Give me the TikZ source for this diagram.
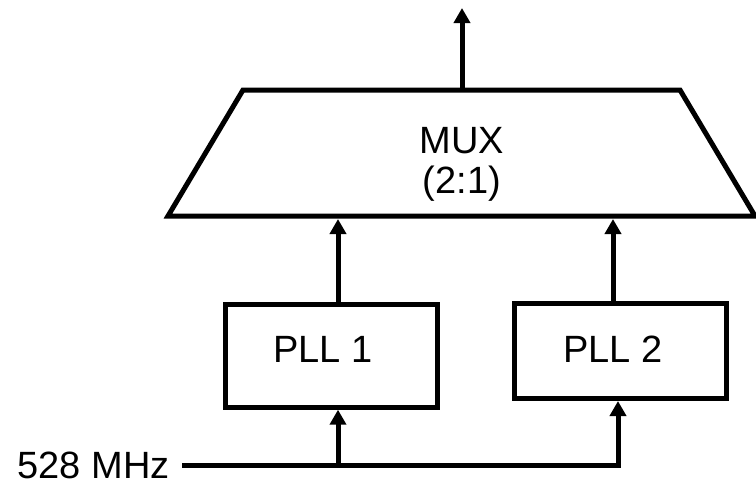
\documentclass[tikz,border=0pt]{standalone}
\usepackage{fontspec}
\setmainfont{Liberation Sans}
\usetikzlibrary{arrows.meta}
\begin{document}
\begin{tikzpicture}[x=1pt,y=-1pt,
  wire/.style={line width=5pt},
  arr/.style={wire,-{Triangle[length=15pt,width=16pt]}},
  box/.style={draw,line width=5pt,inner sep=0pt},
  lbl/.style={font=\fontsize{38}{40}\selectfont,inner sep=0pt}]
\useasboundingbox (0,0) rectangle (756,483);
% MUX trapezoid
\draw[line width=5pt] (243,90) -- (680,90) -- (755,216) -- (168,216) -- cycle;
\node[lbl,anchor=base] (mux) at (462,153) {MUX};
\node[lbl,anchor=base] (muxratio) at (462,193) {(2:1)};
\coordinate (muxtop) at (462,90);
\coordinate (out) at (462,8);
\coordinate (muxin1) at (338,219);
\coordinate (muxin2) at (613,219);
% PLL boxes
\node[box,minimum width=212pt,minimum height=103pt] (pll1) at (331.7,355.7) {};
\node[box,minimum width=212pt,minimum height=95pt] (pll2) at (620,351) {};
\node[lbl,anchor=base] (pll1text) at (323,362) {PLL 1};
\node[lbl,anchor=base] (pll2text) at (613,362) {PLL 2};
% input
\node[lbl,anchor=base east] (in) at (170,478) {528 MHz};
\coordinate (src) at (182,465);
\coordinate (split) at (338,465);
\coordinate (corner) at (618,465);
% connectors
\draw[arr] (muxtop) -- (out);
\draw[arr] (pll1.north -| muxin1) -- (muxin1);
\draw[arr] (pll2.north -| muxin2) -- (muxin2);
\draw[wire] (src) -- (split);
\draw[arr] (split) -- (split |- pll1.south);
\draw[arr] (split) -- (corner) -- (corner |- pll2.south);
\end{tikzpicture}
\end{document}
